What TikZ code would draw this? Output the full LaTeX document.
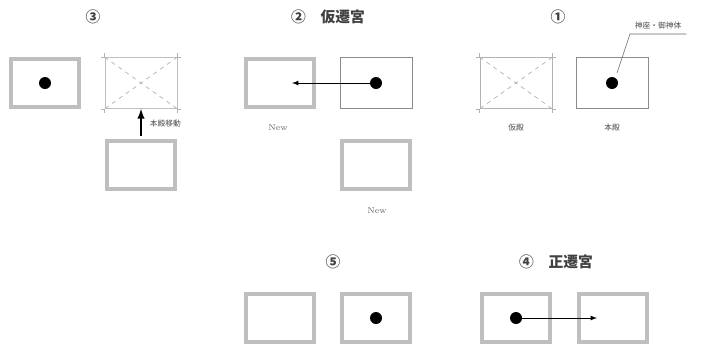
\documentclass[tikz,border=0pt]{standalone}
\usepackage{fontspec}
\newfontfamily\jp{Noto Sans CJK JP}
\usetikzlibrary{positioning}
\tikzset{
  hallbox/.style={draw=black!25, line width=2.2pt, minimum width=1.7cm, minimum height=1.2cm, inner sep=0pt},
  thinbox/.style={draw=black!45, line width=0.5pt, minimum width=1.8cm, minimum height=1.275cm, inner sep=0pt},
  title/.style={font=\jp\fontsize{10.5pt}{12pt}\selectfont\bfseries, text=black!75},
  small/.style={font=\jp\fontsize{5.5pt}{6.5pt}\selectfont, text=black!70},
  newlabel/.style={font=\fontsize{6pt}{7pt}\selectfont, text=black!60},
  spirit/.style={fill=black, radius=0.15cm}
}
\newcommand{\gone}[1]{%
  \draw[black!30, dashed, line width=0.5pt] (#1.north west) -- (#1.south east);
  \draw[black!30, dashed, line width=0.5pt] (#1.north east) -- (#1.south west);
  \foreach \c/\dx/\dy in {north west/-1/1, north east/1/1, south west/-1/-1, south east/1/-1}
    \draw[black!30, line width=0.4pt] ([xshift=\dx*0.1cm]#1.\c) -- (#1.\c) -- ([yshift=\dy*0.1cm]#1.\c);
}
\begin{document}
\begin{tikzpicture}[x=0.025cm,y=-0.025cm]
  \useasboundingbox (0,0) rectangle (715,343);

  % step 3
  \node[title] (t3) at (93,17) {③};
  \node[hallbox] (a3) at (45,83) {};
  \node[thinbox, draw=black!25] (b3) at (141,83) {};
  \node[hallbox] (c3) at (141,165) {};
  \gone{b3}
  \fill (a3.center) circle[spirit];
  \coordinate (up3) at (141,136);
  \draw[-latex, line width=1.4pt] (up3) -- (b3.south);
  \node[small, right=0.1cm of up3, yshift=0.3cm] (move3) {本殿移動};

  % step 2
  \node[title] (t2) at (328,17) {②\quad 仮遷宮};
  \node[hallbox] (a2) at (280,83) {};
  \node[thinbox] (b2) at (376,83) {};
  \node[hallbox] (c2) at (376,165) {};
  \fill (b2.center) circle[spirit] coordinate (d2);
  \coordinate (e2) at (292,83);
  \draw[-latex, line width=0.6pt] (d2) -- (e2);
  \node[newlabel] (n2a) at (278,128) {New};
  \node[newlabel] (n2b) at (377,211) {New};

  % step 1
  \node[title] (t1) at (558,17) {①};
  \node[thinbox, draw=black!30] (a1) at (516,83) {};
  \node[thinbox] (b1) at (612,83) {};
  \gone{a1}
  \fill (b1.center) circle[spirit] coordinate (d1);
  \node[small, anchor=south west] (god) at (630,34) {神座・御神体};
  \draw[black!60, line width=0.4pt] (617,73) -- (god.south west) -- (god.south east);
  \node[small] (l1a) at (516,128) {仮殿};
  \node[small] (l1b) at (612,128) {本殿};

  % step 5
  \node[title] (t5) at (333,262) {⑤};
  \node[hallbox] (a5) at (280,318) {};
  \node[hallbox] (b5) at (376,318) {};
  \fill (b5.center) circle[spirit];

  % step 4
  \node[title] (t4) at (556,262) {④\quad 正遷宮};
  \node[hallbox] (a4) at (516,318) {};
  \node[hallbox] (b4) at (613,318) {};
  \fill (516,318) circle[spirit] coordinate (d4);
  \coordinate (e4) at (597,318);
  \draw[-latex, line width=0.6pt] (d4) -- (e4);
\end{tikzpicture}
\end{document}
